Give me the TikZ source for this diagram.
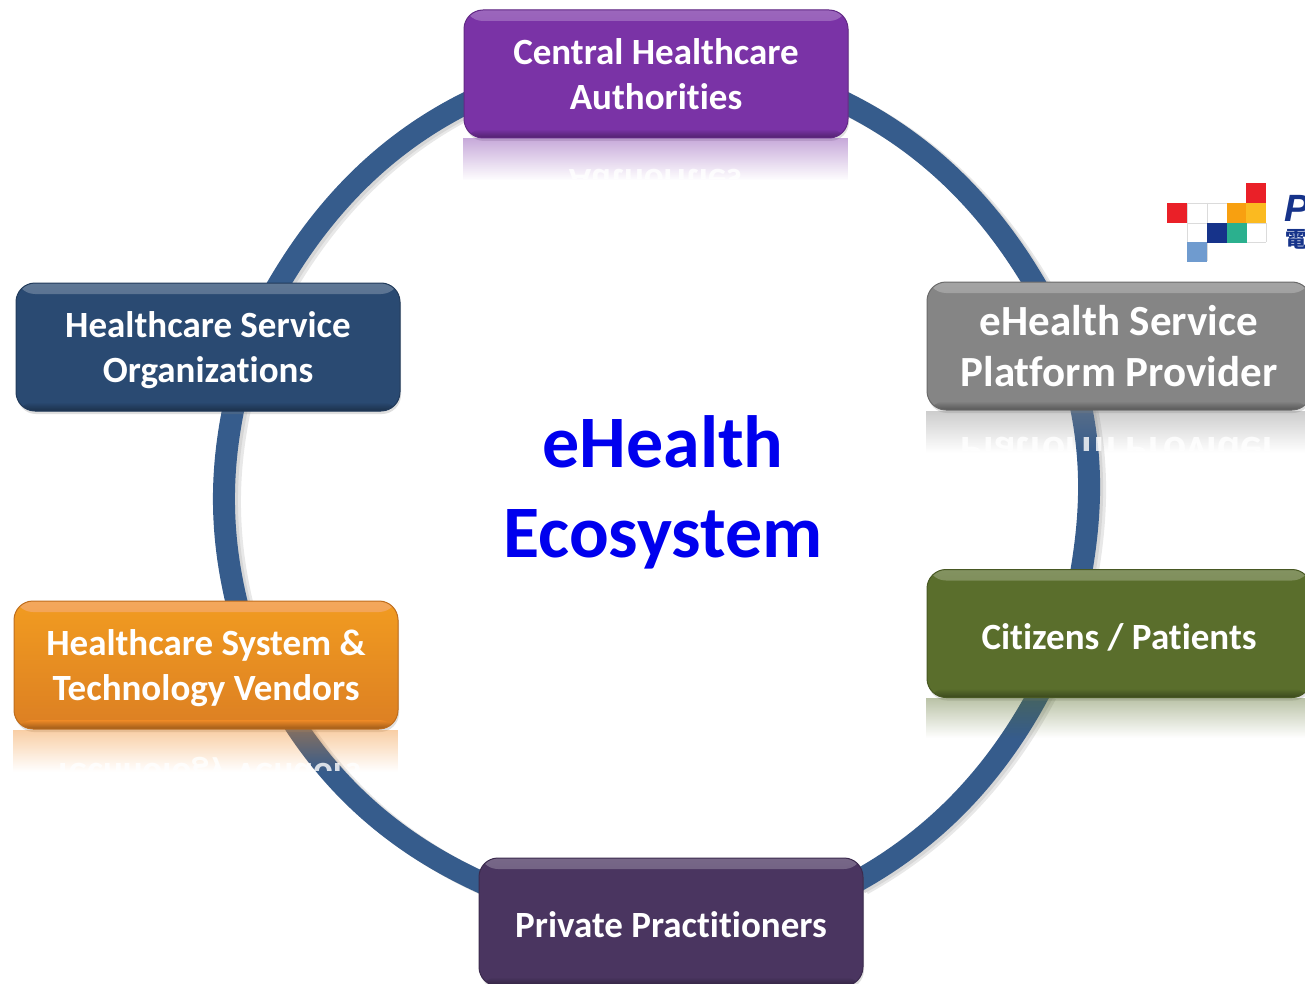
\documentclass[tikz,border=0pt]{standalone}
\usepackage{fontspec}
\setmainfont[Ligatures={NoCommon}]{Carlito}
\newfontfamily\logofont{Liberation Sans}
\newfontfamily\logocjk{Noto Sans CJK TC}
\usetikzlibrary{shadows}
\usetikzlibrary{fadings}
\usetikzlibrary{backgrounds}
\definecolor{centralcolor}{HTML}{7A33A6}
\definecolor{providercolor}{HTML}{858585}
\definecolor{citizencolor}{HTML}{5A6E2C}
\definecolor{privatecolor}{HTML}{4A3560}
\definecolor{vendorcolor}{HTML}{EF8A26}
\definecolor{servicecolor}{HTML}{2A4A72}
\definecolor{linkcolor}{HTML}{365C8C}
\definecolor{titlecolor}{HTML}{0000EE}
\definecolor{logonavy}{HTML}{16338A}
\definecolor{logored}{HTML}{EA2028}
\definecolor{logoorange}{HTML}{F8A010}
\definecolor{logogold}{HTML}{FBBA20}
\definecolor{logoteal}{HTML}{2BB08E}
\definecolor{logoblue}{HTML}{6F9BCF}

\begin{document}
\begin{tikzpicture}[x=1pt,y=1pt]
	 \tikzstyle{box}=[rectangle,rounded corners=19pt,minimum width=384pt,minimum height=128pt,inner sep=0pt,
		align=center,text=white,fill=#1,draw=#1!80!black,line width=1pt,text depth=0pt,
		font=\fontsize{37}{45}\selectfont\bfseries,
		execute at begin node={\rule{0pt}{31pt}},
		drop shadow={shadow xshift=1pt,shadow yshift=-3pt,opacity=.25},
		path picture={
			\shade[top color=#1!75!white,bottom color=#1] (path picture bounding box.north west) rectangle ([yshift=-11pt]path picture bounding box.north east);
			\shade[top color=#1,bottom color=#1!65!black] ([yshift=9pt]path picture bounding box.south west) rectangle (path picture bounding box.south east);
		}]
	 \tikzstyle{big box}=[box=#1,font=\fontsize{43}{51}\selectfont\bfseries,execute at begin node={\rule{0pt}{34pt}}]
	 \tikzstyle{title}=[align=center,text=titlecolor,font=\fontsize{74}{90}\selectfont\bfseries]

	 \tikzstyle{link}=[draw=linkcolor,line width=22pt,looseness=.87,shorten <=-8pt,shorten >=-8pt,
		preaction={draw=black!9,line width=22pt,transform canvas={shift={(6pt,-3pt)}}},
		preaction={draw=black!16,line width=22pt,transform canvas={shift={(3pt,-2pt)}}}]
	 \tikzstyle{reflection}=[fill=#1,fill opacity=.42,path fading=south]
	 \tikzstyle{mirror}=[yscale=-1,align=center,text=white,text opacity=.8,font=\fontsize{37}{45}\selectfont\bfseries]
	 \tikzstyle{big mirror}=[mirror,font=\fontsize{43}{51}\selectfont\bfseries]

	 \useasboundingbox (0,-984) rectangle (1305,0);
	 \clip (0,-984) rectangle (1305,0);

	 \node[box=centralcolor] (central) at (656,-74) {Central Healthcare\\Authorities};
	 \node[big box=providercolor] (provider) at (1119,-346) {eHealth Service\\Platform Provider};
	 \node[box=citizencolor] (citizens) at (1119,-633.5) {Citizens / Patients};
	 \node[box=privatecolor] (private) at (671,-922) {Private Practitioners};
	 \node[box=vendorcolor,top color=vendorcolor!85!yellow,bottom color=vendorcolor!92!black] (vendors) at (206,-665) {Healthcare System \&\\Technology Vendors};
	 \node[box=servicecolor,execute at begin node={}] (service) at (208,-347) {Healthcare Service\\Organizations};
	 \node[title] (hub) at (663,-492) {eHealth\\Ecosystem};

	 \begin{pgfonlayer}{background}
		\draw[link] (central.-9.5) to[out=-26,in=120] (provider.143);
		\draw[link] (provider.240) to[out=-78,in=80] (citizens.120);
		\draw[link] (citizens.218) to[out=-118,in=29] (private.13);
		\draw[link] (private.168) to[out=156,in=-57] (vendors.-35);
		\draw[link] (vendors.65) to[out=104,in=-102] (service.-69);
		\draw[link] (service.42) to[out=60,in=-154] (central.189.5);
	 \end{pgfonlayer}

	 \fill[reflection=centralcolor] (central.south west) rectangle ([yshift=-42pt]central.south east);
	 \fill[reflection=providercolor] (provider.south west) rectangle ([yshift=-42pt]provider.south east);
	 \fill[reflection=citizencolor] (citizens.south west) rectangle ([yshift=-40pt]citizens.south east);
	 \fill[reflection=vendorcolor] (vendors.south west) rectangle ([yshift=-42pt]vendors.south east);

	 \begin{scope}
		\clip (464,-140) rectangle (848,-179);
		\node[mirror] (central mirror) at (655,-182) {Authorities};
	 \end{scope}
	 \begin{scope}
		\clip (927,-412) rectangle (1305,-450);
		\node[big mirror] (provider mirror) at (1119,-452) {Platform Provider};
	 \end{scope}
	 \begin{scope}
		\clip (14,-731) rectangle (398,-770);
		\node[mirror] (vendors mirror) at (207,-773) {Technology Vendors};
	 \end{scope}

	 \draw[black!14,line width=.8pt] (1187,-203) -- (1246,-203) (1187,-223) -- (1266,-223) (1187,-242) -- (1266,-242)
		(1187,-203) -- (1187,-261) (1207,-203) -- (1207,-261) (1227,-203) -- (1227,-242) (1266,-223) -- (1266,-242);
	 \foreach \x/\y/\c in {1167/203/logored,1246/183/logored,1227/203/logoorange,1246/203/logogold,
		1207/223/logonavy,1227/223/logoteal,1187/242/logoblue}
		\fill[\c] (\x,-\y) rectangle +(20,-20);
	 \node[anchor=west,inner sep=0pt,text=logonavy,font=\logofont\fontsize{38}{38}\selectfont\bfseries\itshape] (logo name) at (1284,-208) {P};
	 \node[anchor=west,inner sep=0pt,text=logonavy,font=\logocjk\fontsize{22}{22}\selectfont\bfseries] (logo sub) at (1285,-239) {電};
\end{tikzpicture}
\end{document}
